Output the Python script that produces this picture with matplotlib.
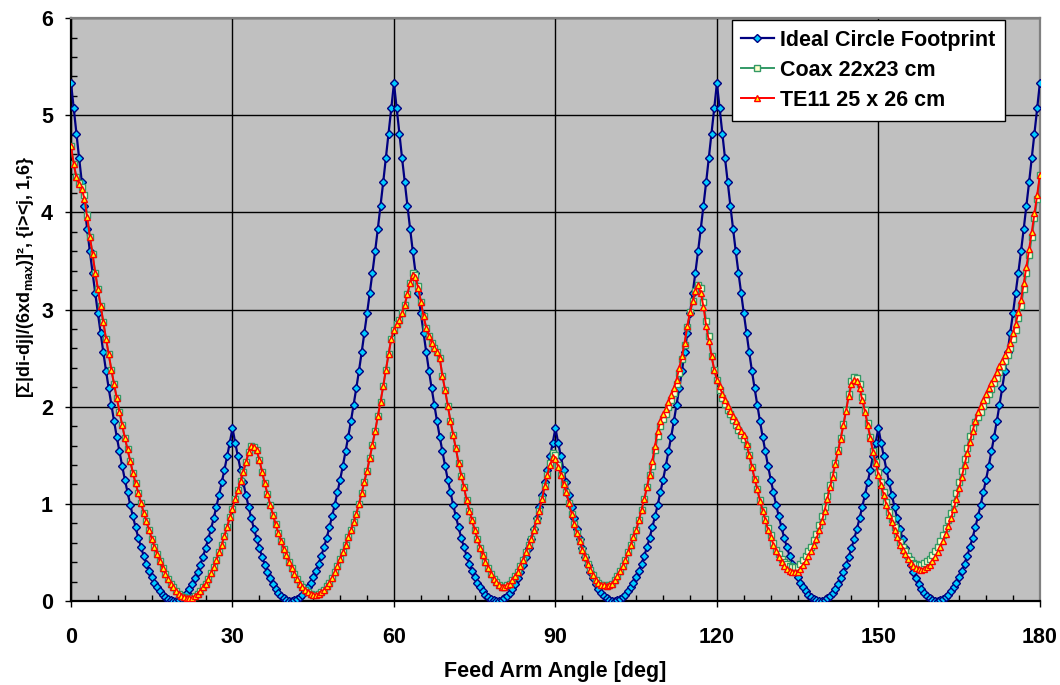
import numpy as np
import matplotlib
matplotlib.use("Agg")
import matplotlib.pyplot as plt
from matplotlib.ticker import MultipleLocator

plt.rcParams['font.family'] = ['Liberation Sans', 'DejaVu Sans']
plt.rcParams['font.weight'] = 'bold'
plt.rcParams['mathtext.default'] = 'regular'

# Feed arm angle, sampled every half degree (0 ... 180)
angles = np.arange(0, 180.5, 0.5)

# Ideal Circle Footprint (0.5 deg steps)
ideal = [
    5.33, 5.07, 4.81, 4.56, 4.31, 4.07, 3.83, 3.60, 3.38, 3.17, 2.96, 2.76, 2.56, 2.37, 2.19, 2.02, 1.85, 1.69, 1.54, 1.39,
    1.25, 1.12, 0.99, 0.87, 0.76, 0.65, 0.555, 0.465, 0.385, 0.31, 0.245, 0.19, 0.14, 0.10, 0.066, 0.038, 0.018, 0.006, 0.001, 0.002,
    0.010, 0.027, 0.052, 0.085, 0.125, 0.175, 0.235, 0.30, 0.375, 0.455, 0.545, 0.64, 0.74, 0.85, 0.97, 1.09, 1.22, 1.35, 1.49, 1.63, 1.78,
    1.63, 1.49, 1.35, 1.22, 1.09, 0.97, 0.85, 0.74, 0.64, 0.545, 0.455, 0.375, 0.30, 0.235, 0.175, 0.125, 0.085, 0.052, 0.027, 0.010,
    0.002, 0.001, 0.006, 0.018, 0.038, 0.066, 0.10, 0.14, 0.19, 0.245, 0.31, 0.385, 0.465, 0.555, 0.65, 0.76, 0.87, 0.99, 1.12, 1.25,
    1.39, 1.54, 1.69, 1.85, 2.02, 2.19, 2.37, 2.56, 2.76, 2.96, 3.17, 3.38, 3.60, 3.83, 4.07, 4.31, 4.56, 4.81, 5.07, 5.33,
    5.07, 4.81, 4.56, 4.31, 4.07, 3.83, 3.60, 3.38, 3.17, 2.96, 2.76, 2.56, 2.37, 2.19, 2.02, 1.85, 1.69, 1.54, 1.39, 1.25,
    1.12, 0.99, 0.87, 0.76, 0.65, 0.555, 0.465, 0.385, 0.31, 0.245, 0.19, 0.14, 0.10, 0.066, 0.038, 0.018, 0.006, 0.001, 0.002, 0.010,
    0.027, 0.052, 0.085, 0.125, 0.175, 0.235, 0.30, 0.375, 0.455, 0.545, 0.64, 0.74, 0.85, 0.97, 1.09, 1.22, 1.35, 1.49, 1.63, 1.78,
    1.63, 1.49, 1.35, 1.22, 1.09, 0.97, 0.85, 0.74, 0.64, 0.545, 0.455, 0.375, 0.30, 0.235, 0.175, 0.125, 0.085, 0.052, 0.027, 0.010,
    0.002, 0.001, 0.006, 0.018, 0.038, 0.066, 0.10, 0.14, 0.19, 0.245, 0.31, 0.385, 0.465, 0.555, 0.65, 0.76, 0.87, 0.99, 1.12, 1.25,
    1.39, 1.54, 1.69, 1.85, 2.02, 2.19, 2.37, 2.56, 2.76, 2.96, 3.17, 3.38, 3.60, 3.83, 4.07, 4.31, 4.56, 4.81, 5.07, 5.33,
    5.07, 4.81, 4.56, 4.31, 4.07, 3.83, 3.60, 3.38, 3.17, 2.96, 2.76, 2.56, 2.37, 2.19, 2.02, 1.85, 1.69, 1.54, 1.39, 1.25,
    1.12, 0.99, 0.87, 0.76, 0.65, 0.555, 0.465, 0.385, 0.31, 0.245, 0.19, 0.14, 0.10, 0.066, 0.038, 0.018, 0.006, 0.001, 0.002, 0.010,
    0.027, 0.052, 0.085, 0.125, 0.175, 0.235, 0.30, 0.375, 0.455, 0.545, 0.64, 0.74, 0.85, 0.97, 1.09, 1.22, 1.35, 1.49, 1.63, 1.78,
    1.63, 1.49, 1.35, 1.22, 1.09, 0.97, 0.85, 0.74, 0.64, 0.545, 0.455, 0.375, 0.30, 0.235, 0.175, 0.125, 0.085, 0.052, 0.027, 0.010,
    0.002, 0.001, 0.006, 0.018, 0.038, 0.066, 0.10, 0.14, 0.19, 0.245, 0.31, 0.385, 0.465, 0.555, 0.65, 0.76, 0.87, 0.99, 1.12, 1.25,
    1.39, 1.54, 1.69, 1.85, 2.02, 2.19, 2.37, 2.56, 2.76, 2.96, 3.17, 3.38, 3.60, 3.83, 4.07, 4.31, 4.56, 4.81, 5.07, 5.33,
]

# TE11 25 x 26 cm
te11 = [
    4.68, 4.50, 4.36, 4.29, 4.24, 4.14, 3.95, 3.75, 3.57, 3.38, 3.21, 3.04, 2.87, 2.70, 2.54, 2.38, 2.23, 2.09, 1.95, 1.81,
    1.68, 1.56, 1.44, 1.32, 1.21, 1.11, 1.01, 0.91, 0.82, 0.73, 0.64, 0.56, 0.48, 0.41, 0.34, 0.28, 0.23, 0.18, 0.14, 0.10,
    0.075, 0.055, 0.04, 0.03, 0.03, 0.035, 0.05, 0.075, 0.10, 0.14, 0.18, 0.23, 0.29, 0.35, 0.42, 0.50, 0.58, 0.67, 0.76, 0.86,
    0.95, 1.05, 1.14, 1.24, 1.33, 1.43, 1.53, 1.60, 1.59, 1.55, 1.45, 1.33, 1.21, 1.10, 0.99, 0.89, 0.79, 0.70, 0.62, 0.54,
    0.47, 0.40, 0.34, 0.28, 0.23, 0.18, 0.14, 0.11, 0.09, 0.07, 0.06, 0.06, 0.07, 0.09, 0.11, 0.15, 0.19, 0.24, 0.30, 0.36,
    0.43, 0.50, 0.58, 0.66, 0.73, 0.81, 0.90, 1.00, 1.11, 1.23, 1.34, 1.47, 1.61, 1.75, 1.90, 2.05, 2.21, 2.38, 2.54, 2.70,
    2.79, 2.85, 2.89, 2.96, 3.05, 3.16, 3.27, 3.36, 3.33, 3.22, 3.08, 2.93, 2.81, 2.73, 2.66, 2.60, 2.56, 2.50, 2.32, 2.17,
    2.01, 1.85, 1.71, 1.57, 1.42, 1.29, 1.17, 1.04, 0.93, 0.83, 0.73, 0.64, 0.55, 0.47, 0.40, 0.34, 0.28, 0.23, 0.20, 0.17,
    0.145, 0.145, 0.165, 0.18, 0.22, 0.26, 0.30, 0.36, 0.42, 0.50, 0.58, 0.64, 0.73, 0.83, 0.93, 1.05, 1.18, 1.30, 1.40, 1.48,
    1.46, 1.38, 1.30, 1.20, 1.12, 1.01, 0.90, 0.79, 0.70, 0.62, 0.53, 0.45, 0.38, 0.32, 0.27, 0.22, 0.19, 0.17, 0.16, 0.15,
    0.165, 0.18, 0.22, 0.26, 0.31, 0.36, 0.42, 0.50, 0.58, 0.66, 0.73, 0.83, 0.94, 1.05, 1.17, 1.30, 1.44, 1.60, 1.75, 1.85,
    1.92, 1.98, 2.05, 2.12, 2.19, 2.28, 2.40, 2.52, 2.66, 2.83, 2.97, 3.09, 3.19, 3.25, 3.17, 3.03, 2.83, 2.68, 2.52, 2.38,
    2.28, 2.21, 2.13, 2.07, 2.01, 1.96, 1.90, 1.85, 1.80, 1.75, 1.71, 1.62, 1.50, 1.38, 1.26, 1.15, 1.03, 0.93, 0.83, 0.73,
    0.66, 0.58, 0.51, 0.45, 0.40, 0.36, 0.33, 0.31, 0.30, 0.30, 0.30, 0.33, 0.37, 0.41, 0.46, 0.51, 0.58, 0.64, 0.73, 0.82,
    0.93, 1.05, 1.17, 1.28, 1.41, 1.54, 1.67, 1.81, 1.96, 2.11, 2.23, 2.28, 2.26, 2.19, 2.07, 1.95, 1.81, 1.68, 1.53, 1.42,
    1.30, 1.19, 1.09, 0.99, 0.89, 0.81, 0.73, 0.66, 0.58, 0.53, 0.48, 0.43, 0.39, 0.36, 0.34, 0.33, 0.32, 0.33, 0.35, 0.37,
    0.41, 0.45, 0.50, 0.56, 0.62, 0.69, 0.77, 0.85, 0.95, 1.05, 1.16, 1.28, 1.40, 1.52, 1.64, 1.75, 1.85, 1.95, 2.01, 2.07,
    2.13, 2.19, 2.24, 2.30, 2.36, 2.42, 2.47, 2.53, 2.59, 2.66, 2.76, 2.85, 2.97, 3.10, 3.27, 3.44, 3.62, 3.80, 3.99, 4.18,
    4.38,
]

# Coax 22x23 cm
coax = [
    4.68, 4.50, 4.36, 4.30, 4.26, 4.18, 3.97, 3.75, 3.57, 3.38, 3.21, 3.04, 2.87, 2.70, 2.54, 2.38, 2.23, 2.09, 1.95, 1.81,
    1.68, 1.56, 1.44, 1.32, 1.21, 1.11, 1.01, 0.91, 0.82, 0.73, 0.64, 0.56, 0.48, 0.41, 0.34, 0.28, 0.23, 0.18, 0.14, 0.10,
    0.075, 0.055, 0.04, 0.03, 0.03, 0.035, 0.05, 0.075, 0.10, 0.14, 0.18, 0.23, 0.29, 0.35, 0.42, 0.50, 0.58, 0.67, 0.76, 0.86,
    0.95, 1.05, 1.14, 1.24, 1.33, 1.43, 1.53, 1.60, 1.59, 1.55, 1.45, 1.33, 1.21, 1.10, 0.99, 0.89, 0.79, 0.70, 0.62, 0.54,
    0.47, 0.40, 0.34, 0.28, 0.23, 0.18, 0.14, 0.11, 0.09, 0.07, 0.06, 0.06, 0.07, 0.09, 0.11, 0.15, 0.19, 0.24, 0.30, 0.36,
    0.43, 0.50, 0.58, 0.66, 0.73, 0.81, 0.90, 1.00, 1.11, 1.23, 1.34, 1.47, 1.61, 1.75, 1.90, 2.05, 2.21, 2.38, 2.54, 2.70,
    2.79, 2.85, 2.89, 2.96, 3.05, 3.16, 3.27, 3.38, 3.36, 3.24, 3.08, 2.93, 2.81, 2.73, 2.66, 2.60, 2.56, 2.50, 2.32, 2.17,
    2.01, 1.85, 1.71, 1.57, 1.42, 1.29, 1.17, 1.04, 0.93, 0.83, 0.73, 0.64, 0.55, 0.47, 0.40, 0.34, 0.28, 0.23, 0.20, 0.17,
    0.145, 0.145, 0.165, 0.18, 0.22, 0.26, 0.30, 0.36, 0.42, 0.50, 0.58, 0.64, 0.73, 0.83, 0.93, 1.05, 1.18, 1.30, 1.42, 1.52,
    1.50, 1.40, 1.30, 1.20, 1.12, 1.01, 0.90, 0.79, 0.70, 0.62, 0.53, 0.45, 0.38, 0.32, 0.27, 0.22, 0.19, 0.17, 0.16, 0.15,
    0.165, 0.18, 0.22, 0.26, 0.31, 0.36, 0.42, 0.50, 0.58, 0.66, 0.73, 0.83, 0.94, 1.05, 1.17, 1.30, 1.39, 1.55, 1.70, 1.80,
    1.87, 1.93, 2.00, 2.07, 2.14, 2.23, 2.35, 2.49, 2.64, 2.82, 2.97, 3.09, 3.19, 3.25, 3.22, 3.08, 2.88, 2.73, 2.52, 2.38,
    2.28, 2.17, 2.09, 2.03, 1.97, 1.92, 1.86, 1.81, 1.76, 1.71, 1.67, 1.60, 1.50, 1.38, 1.26, 1.15, 1.04, 0.94, 0.84, 0.75,
    0.68, 0.60, 0.53, 0.48, 0.43, 0.40, 0.38, 0.36, 0.35, 0.35, 0.35, 0.38, 0.42, 0.46, 0.51, 0.56, 0.63, 0.69, 0.78, 0.87,
    0.97, 1.08, 1.19, 1.30, 1.42, 1.55, 1.68, 1.82, 1.97, 2.13, 2.26, 2.31, 2.30, 2.23, 2.10, 1.97, 1.83, 1.69, 1.54, 1.43,
    1.33, 1.22, 1.12, 1.02, 0.92, 0.84, 0.76, 0.69, 0.61, 0.56, 0.51, 0.46, 0.42, 0.39, 0.38, 0.37, 0.37, 0.39, 0.41, 0.43,
    0.47, 0.51, 0.56, 0.62, 0.68, 0.75, 0.83, 0.91, 1.01, 1.11, 1.22, 1.34, 1.46, 1.58, 1.70, 1.78, 1.84, 1.89, 1.95, 2.01,
    2.07, 2.13, 2.18, 2.24, 2.30, 2.36, 2.41, 2.47, 2.53, 2.60, 2.70, 2.79, 2.91, 3.04, 3.21, 3.38, 3.56, 3.75, 3.94, 4.14,
    4.38,
]

series_labels = ["Ideal Circle Footprint", "Coax 22x23 cm", "TE11 25 x 26 cm"]
x_ticks = [0, 30, 60, 90, 120, 150, 180]
y_ticks = [0, 1, 2, 3, 4, 5, 6]

fig = plt.figure(figsize=(10.6, 6.85), dpi=100)
ax = fig.add_axes([0.067, 0.1226, 0.914, 0.851])
ax.set_facecolor('#C0C0C0')

ax.plot(angles, ideal, color='#000080', lw=1.6, marker='D', ms=3.6,
        mfc='#00CCFF', mec='#000080', mew=1.0, label=series_labels[0], zorder=3)
ax.plot(angles, coax, color='#339966', lw=1.4, marker='s', ms=4.6,
        mfc='#FFFFCC', mec='#339966', mew=1.0, label=series_labels[1], zorder=4)
ax.plot(angles, te11, color='#FF0000', lw=1.4, marker='^', ms=4.8,
        mfc='#FFFF00', mec='#FF0000', mew=1.0, label=series_labels[2], zorder=5)

ax.set_xlim(0, 180)
ax.set_ylim(0, 6)
ax.set_xticks(x_ticks)
ax.set_yticks(y_ticks)
ax.xaxis.set_minor_locator(MultipleLocator(5))
ax.yaxis.set_minor_locator(MultipleLocator(0.2))
ax.grid(True, which='major', color='black', lw=1.0, zorder=1)
ax.set_axisbelow(True)

ax.tick_params(axis='both', which='major', direction='out', length=4, width=1,
               labelsize=15.5)
ax.tick_params(axis='x', which='major', pad=15)
ax.tick_params(axis='y', which='major', pad=9)
ax.tick_params(axis='both', which='minor', direction='in', length=4, width=1)
for lab in ax.get_xticklabels() + ax.get_yticklabels():
    lab.set_fontweight('bold')

for s in ['left', 'bottom']:
    ax.spines[s].set_color('black')
    ax.spines[s].set_linewidth(1.6)
for s in ['top', 'right']:
    ax.spines[s].set_color('#808080')
    ax.spines[s].set_linewidth(1.6)

ax.set_xlabel('Feed Arm Angle [deg]', fontsize=15.5, fontweight='bold')
ax.xaxis.set_label_coords(0.5, -0.103)
ax.set_ylabel(r'[Σ|di-dj|/(6$\mathregular{x}$d$_{\mathregular{max}}$)]², {i><j, 1,6}',
              fontsize=13, fontweight='bold')
ax.yaxis.set_label_coords(-0.036, 0.556)

leg = ax.legend(loc='upper right', bbox_to_anchor=(0.964, 0.9966), borderaxespad=0,
                prop={'weight': 'bold', 'size': 15.5}, frameon=True, fancybox=False,
                edgecolor='black', framealpha=1, handlelength=1.5, handletextpad=0.3,
                labelspacing=0.42, borderpad=0.45)
leg.get_frame().set_linewidth(1.0)

fig.savefig('out.png', dpi=100, facecolor='white')
